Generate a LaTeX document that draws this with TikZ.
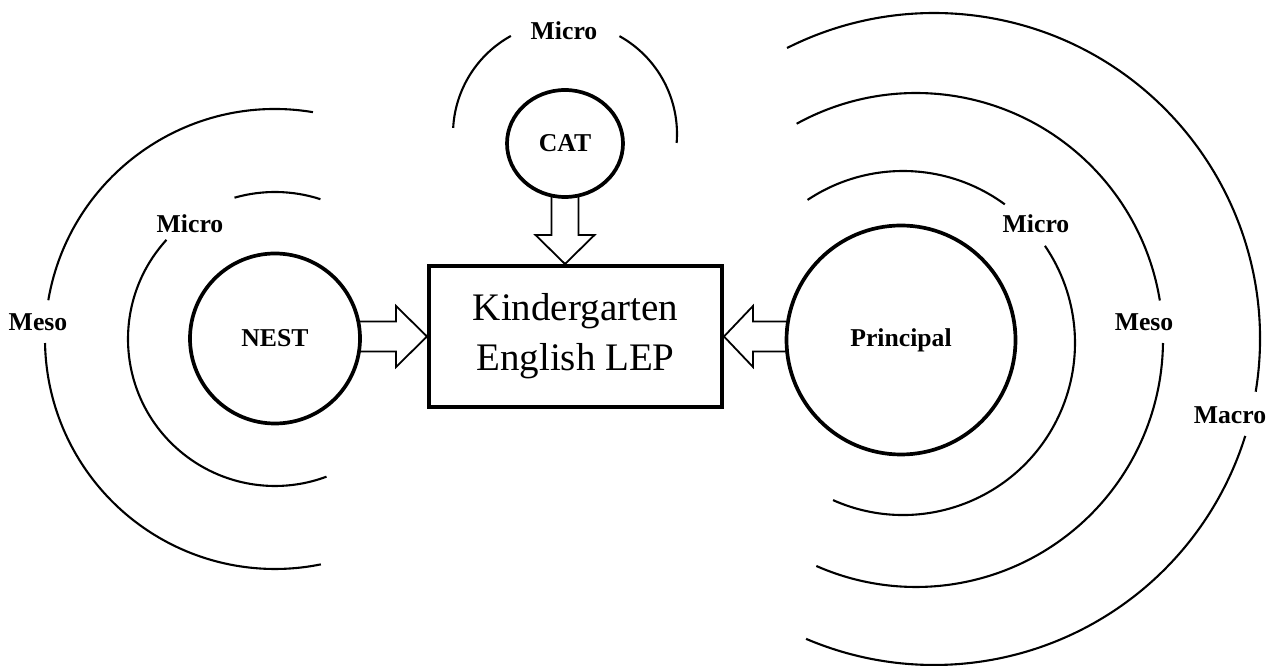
\documentclass[tikz,border=0pt]{standalone}
\usepackage{fontspec}
\setmainfont{Liberation Serif}
\usetikzlibrary{calc,shapes.geometric}
\newcommand\labfont{\fontsize{25.7}{30}\selectfont\bfseries}
\newcommand\boxfont{\fontsize{39}{50}\selectfont}
\newcommand\ringarc[4]{\draw[ring] ($(#1)+(#2:#4)$) arc[start angle=#2,end angle=#3,radius=#4];}
\begin{document}
\begin{tikzpicture}[x=1pt,y=1pt,
  actor/.style={draw,line width=3.7pt,circle,inner sep=0pt,font=\labfont},
  ring/.style={line width=2.1pt},
  harrow/.style={line width=1.8pt,line join=miter},
  lbl/.style={font=\labfont,inner sep=0pt},
  lepbox/.style={draw,line width=4pt,align=center,font=\boxfont,inner sep=0pt}
]
\useasboundingbox (0,0) rectangle (1274,666);

% central box and actors
\node[lepbox, minimum width=293pt, minimum height=141pt] (box) at (575.5,329.5) {Kindergarten\\English LEP};
\node[actor, minimum size=170pt] (nest) at (275,327.5) {NEST};
\node[actor, ellipse, minimum width=116pt, minimum height=107pt] (cat) at (565,522.5) {CAT};
\node[actor, minimum size=229pt] (principal) at (901,326) {Principal};

% ring centres
\coordinate (cN) at (275,327);
\coordinate (cC) at (565,532);
\coordinate (cPmi) at (903,323);
\coordinate (cPme) at (916,326);
\coordinate (cPma) at (934,327);

% NEST rings
\ringarc{cN}{72}{106}{147}
\ringarc{cN}{137.6}{290.5}{147}
\ringarc{cN}{80.5}{170.3}{230}
\ringarc{cN}{181}{281.5}{230}
% CAT ring
\ringarc{cC}{118.9}{176.9}{112}
\ringarc{cC}{-4.6}{60.9}{112}
% Principal rings
\ringarc{cPmi}{53.7}{123.7}{172}
\ringarc{cPmi}{-114}{34.4}{172}
\ringarc{cPme}{9.2}{118.9}{247}
\ringarc{cPme}{-113.8}{-0.7}{247}
\ringarc{cPma}{-9.3}{116.8}{326}
\ringarc{cPma}{-113.1}{-17.3}{326}

% labels
\node[lbl] (microL) at (190,442.5) {Micro};
\node[lbl] (mesoL) at (38,344) {Meso};
\node[lbl] (microC) at (564,635.5) {Micro};
\node[lbl] (microR) at (1036,442.5) {Micro};
\node[lbl] (mesoR) at (1144,343.5) {Meso};
\node[lbl] (macroR) at (1230,250.5) {Macro};

% CAT -> box
\coordinate (ct) at (cat.south |- box.north);
\coordinate (cb) at ($(ct)+(0,29)$);
\draw[harrow] ($(cat.south)+(-13.5,2)$) -- ($(cb)+(-13.5,0)$) -- ($(cb)+(-29.5,0)$) -- (ct)
  -- ($(cb)+(29.5,0)$) -- ($(cb)+(13.5,0)$) -- ($(cat.south)+(13.5,2)$);

% NEST -> box
\coordinate (nt) at (box.west);
\coordinate (nb) at ($(nt)+(-31,0)$);
\coordinate (ns) at ($(nest.east |- nt)+(-2.2,0)$);
\draw[harrow] ($(ns)+(0,15)$) -- ($(nb)+(0,15)$) -- ($(nb)+(0,30.5)$) -- (nt)
  -- ($(nb)+(0,-30.5)$) -- ($(nb)+(0,-15)$) -- ($(ns)+(0,-15)$);

% Principal -> box
\coordinate (pt) at (box.east);
\coordinate (pb) at ($(pt)+(29,0)$);
\coordinate (ps) at ($(principal.west |- pt)+(1.8,0)$);
\draw[harrow] ($(ps)+(0,15)$) -- ($(pb)+(0,15)$) -- ($(pb)+(0,30.5)$) -- (pt)
  -- ($(pb)+(0,-30.5)$) -- ($(pb)+(0,-15)$) -- ($(ps)+(0,-15)$);
\end{tikzpicture}
\end{document}
